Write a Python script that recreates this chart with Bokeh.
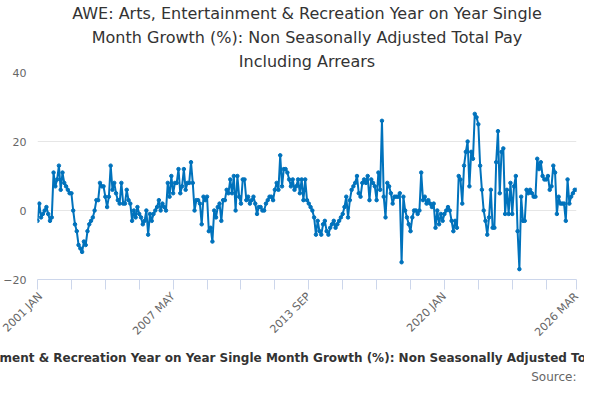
from bokeh.plotting import figure
from bokeh.models import FixedTicker, Title, Range1d
from bokeh.embed import file_html
from bokeh.resources import INLINE
import math

values = [
-3,2,-2,-1,0,1,-1,-3,-2,
11,7,9,13,6,11,8,7,6,5,5,
0,-4,-6,-10,-11,-12,
-9,-10,-6,-4,-3,-2,0,3,
3,8,7,7,4,1,4,13,
6,8,5,3,2,8,2,
2,6,3,2,-3,0,-2,1,-1,-2,
-4,-3,0,-7,-1,-3,-1,0,1,3,0,2,1,
0,8,4,10,5,8,8,12,5,
7,12,6,8,8,14,8,0,
3,3,2,-4,4,3,4,-6,-5,-9,0,-2,1,
2,-3,3,3,6,5,9,5,10,0,10,
4,2,9,9,3,4,2,3,4,2,-1,
1,1,0,0,2,3,4,4,3,6,8,
6,16,7,12,12,11,9,7,9,6,7,9,5,9,
3,9,3,2,1,
0,-2,-7,-3,-6,-7,-4,-3,-6,-7,-5,
-4,-3,-5,-4,-3,-2,-1,1,4,
-2,3,6,7,8,10,5,4,8,9,
8,10,3,9,8,7,3,11,6,26,
4,-2,8,7,5,2,4,4,4,5,-15,
4,0,-2,-4,-6,-2,0,0,-1,0,
11,3,4,2,3,2,1,2,-5,
0,-4,-1,-3,-1,0,1,0,-3,-6,
-3,-5,10,9,2,13,17,20,
7,17,15,28,27,25,13,6,0,
-3,-7,-2,6,-5,
-5,14,23,5,17,18,-1,
6,-1,8,-1,7,10,-6,-17,4,-3,-3,
6,5,6,5,4,4,15,12,14,10,9,9,
10,6,7,13,11,-1,4,2,2,2,-3,9,2,4,5,6,6]

n = len(values)
last = n - 1
x = list(range(n))
tick_labels = {0: "2001 JAN", 76: "2007 MAY", 152: "2013 SEP", 228: "2020 JAN", last: "2026 MAR"}
ticks = [i * 19 for i in range(16) if i * 19 < last - 5] + [last]

title_lines = ["AWE: Arts, Entertainment & Recreation Year on Year Single",
               "Month Growth (%): Non Seasonally Adjusted Total Pay",
               "Including Arrears"]
caption = "AWE: Arts, Entertainment & Recreation Year on Year Single Month Growth (%): Non Seasonally Adjusted Total Pay Including Arrears"

p = figure(width=584, height=384, output_backend="svg", toolbar_location=None,
           x_range=Range1d(0, last), y_range=Range1d(-20, 40))
p.min_border_left = 27
p.min_border_right = 8
p.min_border_top = 2
p.min_border_bottom = 0
p.outline_line_color = None

for line in reversed(title_lines):
    p.add_layout(Title(text=line, align="center", text_font="DejaVu Sans",
                       text_font_size="16px", text_font_style="normal",
                       text_color="#333333", standoff=3), "above")

p.add_layout(Title(text=caption, align="center", text_font="DejaVu Sans",
                   text_font_size="12px", text_font_style="bold",
                   text_color="#333333", standoff=4), "below")
p.add_layout(Title(text="Source:", align="right", text_font="DejaVu Sans",
                   text_font_size="12px", text_font_style="normal",
                   text_color="#666666", standoff=2), "below")

p.line(x, values, line_color="#0072bc", line_width=2)
p.scatter(x, values, size=3.5, color="#0072bc")

p.xaxis.ticker = FixedTicker(ticks=ticks)
p.xaxis.major_label_overrides = {t: tick_labels.get(t, "") for t in ticks}
p.xaxis.major_label_orientation = math.pi / 4
p.xaxis.major_label_text_font = "DejaVu Sans"
p.xaxis.major_label_text_font_size = "11px"
p.xaxis.major_label_text_color = "#666666"
p.xaxis.axis_line_color = "#ccd6eb"
p.xaxis.major_tick_line_color = "#ccd6eb"
p.xaxis.major_tick_in = 0
p.xaxis.major_tick_out = 10
p.xaxis.minor_tick_line_color = None
p.xgrid.grid_line_color = None

p.yaxis.ticker = FixedTicker(ticks=[-20, 0, 20, 40])
p.yaxis.axis_line_color = None
p.yaxis.major_tick_line_color = None
p.yaxis.minor_tick_line_color = None
p.yaxis.major_label_text_font = "DejaVu Sans"
p.yaxis.major_label_text_font_size = "11px"
p.yaxis.major_label_text_color = "#666666"
p.ygrid.grid_line_color = "#e6e6e6"

open("out.html", "w").write(file_html(p, INLINE))
